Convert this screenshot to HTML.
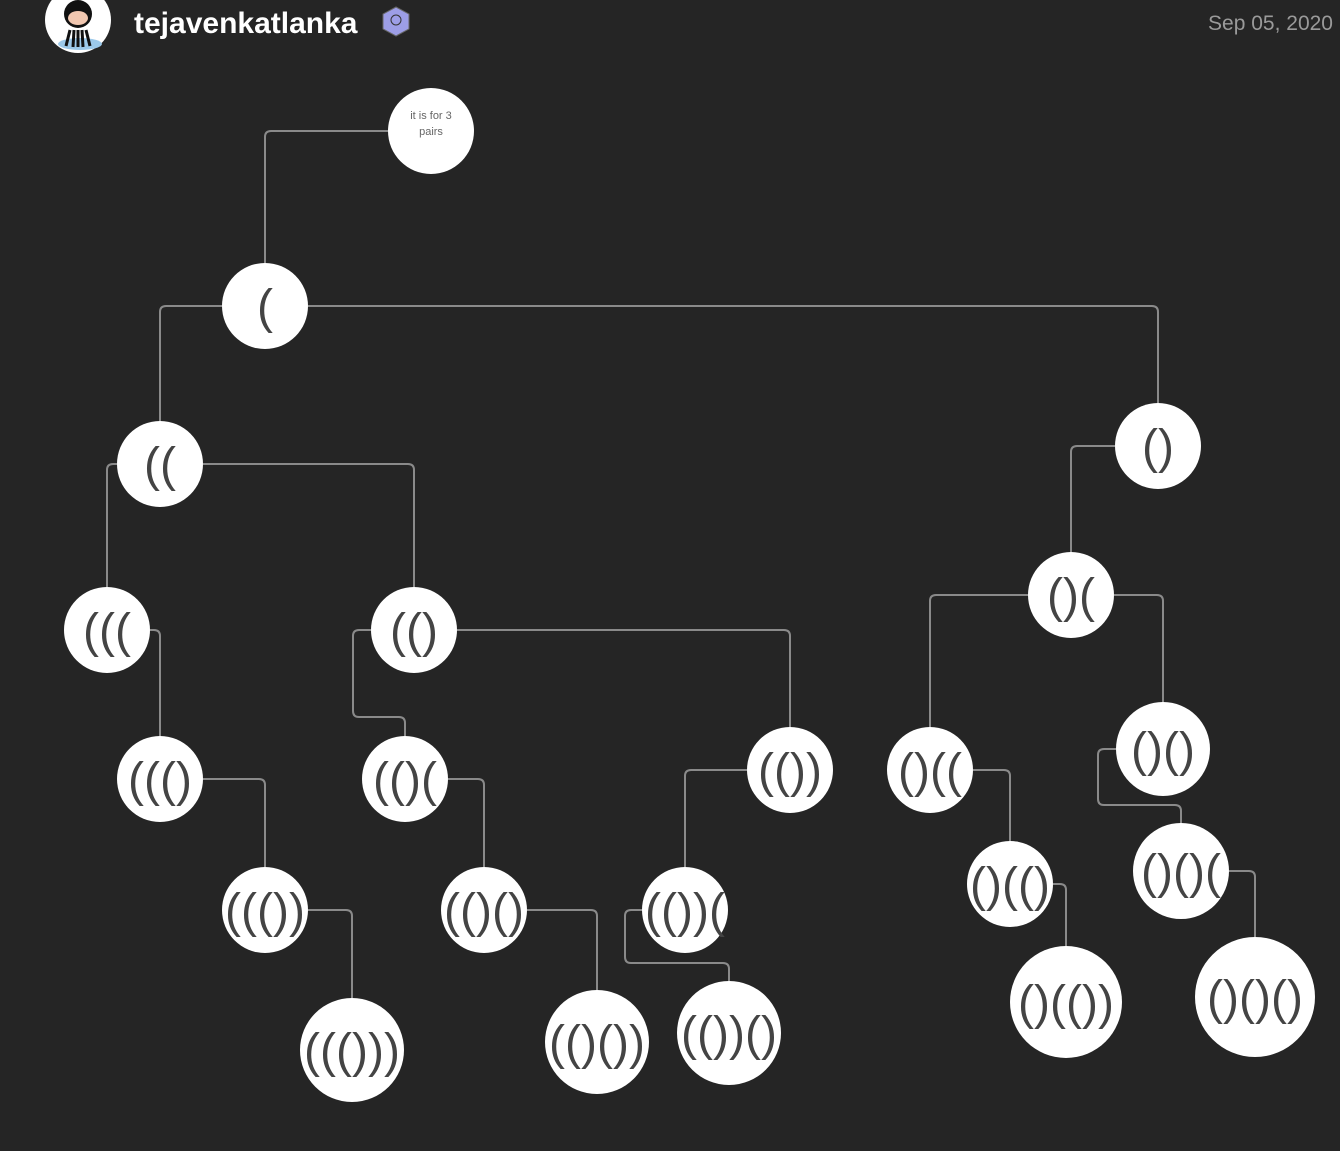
<!DOCTYPE html>
<html><head><meta charset="utf-8"><style>
html,body{margin:0;padding:0;background:#252525;width:1340px;height:1151px;overflow:hidden}
svg{display:block}
</style></head><body>
<svg width="1340" height="1151" viewBox="0 0 1340 1151" xmlns="http://www.w3.org/2000/svg">
<rect width="1340" height="1151" fill="#252525"/>
<!-- header -->
<circle cx="78" cy="20" r="33" fill="#fff"/>
<ellipse cx="80" cy="44" rx="22" ry="6" fill="#9cc9ea"/>
<circle cx="78" cy="14" r="14" fill="#111"/>
<ellipse cx="78" cy="18" rx="10" ry="7" fill="#f1c7b0"/>
<path d="M70 30 L66 46 M74 30 L73 47 M78 30 L78 47 M82 30 L83 47 M86 30 L90 46" stroke="#111" stroke-width="3"/>
<text x="134" y="33" font-family="Liberation Sans, sans-serif" font-size="30" font-weight="bold" fill="#fff">tejavenkatlanka</text>
<polygon points="396,7 409,14 409,29 396,36 383,29 383,14" fill="#9d9ee6" stroke="#666" stroke-width="1"/>
<circle cx="396" cy="20" r="5" fill="none" stroke="#333" stroke-width="1"/>
<text x="1333" y="30" text-anchor="end" font-family="Liberation Sans, sans-serif" font-size="21" fill="#9a9a9a">Sep 05, 2020</text>
<!-- connectors -->
<g fill="none" stroke="#8a8a8a" stroke-width="2" stroke-linejoin="round">
<path d="M388 131 H271 Q265 131 265 137 V263"/>
<path d="M222 306 H166 Q160 306 160 312 V421"/>
<path d="M308 306 H1152 Q1158 306 1158 312 V403"/>
<path d="M117 464 H113 Q107 464 107 470 V587"/>
<path d="M203 464 H408 Q414 464 414 470 V587"/>
<path d="M1115 446 H1077 Q1071 446 1071 452 V552"/>
<path d="M150 630 H154 Q160 630 160 636 V736"/>
<path d="M371 630 H359 Q353 630 353 636 V711 Q353 717 359 717 H399 Q405 717 405 723 V736"/>
<path d="M457 630 H784 Q790 630 790 636 V727"/>
<path d="M203 779 H259 Q265 779 265 785 V867"/>
<path d="M448 779 H478 Q484 779 484 785 V867"/>
<path d="M747 770 H691 Q685 770 685 776 V867"/>
<path d="M308 910 H346 Q352 910 352 916 V998"/>
<path d="M527 910 H591 Q597 910 597 916 V990"/>
<path d="M642 910 H631 Q625 910 625 916 V957 Q625 963 631 963 H723 Q729 963 729 969 V981"/>
<path d="M1028 595 H936 Q930 595 930 601 V727"/>
<path d="M1114 595 H1157 Q1163 595 1163 601 V702"/>
<path d="M973 770 H1004 Q1010 770 1010 776 V841"/>
<path d="M1116 749 H1104 Q1098 749 1098 755 V799 Q1098 805 1104 805 H1175 Q1181 805 1181 811 V823"/>
<path d="M1053 884 H1060 Q1066 884 1066 890 V946"/>
<path d="M1229 871 H1249 Q1255 871 1255 877 V937"/>
</g>
<!-- nodes -->
<g fill="#fff">
<circle cx="431" cy="131" r="43"/>
<circle cx="265" cy="306" r="43"/>
<circle cx="160" cy="464" r="43"/>
<circle cx="1158" cy="446" r="43"/>
<circle cx="107" cy="630" r="43"/>
<circle cx="414" cy="630" r="43"/>
<circle cx="1071" cy="595" r="43"/>
<circle cx="160" cy="779" r="43"/>
<circle cx="405" cy="779" r="43"/>
<circle cx="790" cy="770" r="43"/>
<circle cx="930" cy="770" r="43"/>
<circle cx="1163" cy="749" r="47"/>
<circle cx="265" cy="910" r="43"/>
<circle cx="484" cy="910" r="43"/>
<circle cx="685" cy="910" r="43"/>
<circle cx="1010" cy="884" r="43"/>
<circle cx="1181" cy="871" r="48"/>
<circle cx="352" cy="1050" r="52"/>
<circle cx="597" cy="1042" r="52"/>
<circle cx="729" cy="1033" r="52"/>
<circle cx="1066" cy="1002" r="56"/>
<circle cx="1255" cy="997" r="60"/>
</g>
<text x="431" y="119" text-anchor="middle" font-family="Liberation Sans, sans-serif" font-size="11" fill="#666">it is for 3</text>
<text x="431" y="135" text-anchor="middle" font-family="Liberation Sans, sans-serif" font-size="11" fill="#666">pairs</text>
<g font-family="Liberation Sans, sans-serif" font-size="48" fill="#444" text-anchor="middle">
<text x="265" y="323">(</text>
<text x="160" y="481">((</text>
<text x="1158" y="463">()</text>
<text x="107" y="647">(((</text>
<text x="414" y="647">(()</text>
<text x="1071" y="612">()(</text>
<text x="160" y="796">((()</text>
<text x="405" y="796">(()(</text>
<text x="790" y="787">(())</text>
<text x="930" y="787">()((</text>
<text x="1163" y="766">()()</text>
<text x="265" y="927">((())</text>
<text x="484" y="927">(()()</text>
<text x="685" y="927">(())(</text>
<text x="1010" y="901">()(()</text>
<text x="1181" y="888">()()(</text>
<text x="352" y="1067">((()))</text>
<text x="597" y="1059">(()())</text>
<text x="729" y="1050">(())()</text>
<text x="1066" y="1019">()(())</text>
<text x="1255" y="1014">()()()</text>
</g>
</svg>
</body></html>
